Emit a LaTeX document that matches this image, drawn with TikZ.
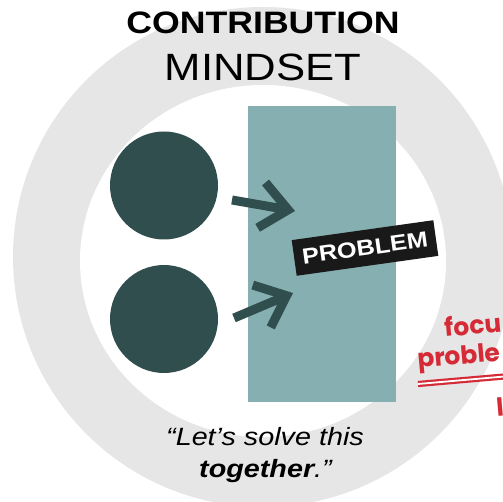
\documentclass[tikz,border=0pt]{standalone}
\usepackage{fontspec}
\setmainfont[FakeStretch=1.15]{Liberation Sans}
\newfontfamily\redfont{Poppins}
\usetikzlibrary{arrows.meta}

\definecolor{ringgray}{HTML}{E6E6E6}
\definecolor{darkteal}{HTML}{2F4E4D}
\definecolor{paleteal}{HTML}{86AFB1}
\definecolor{focusred}{HTML}{D52B36}

\begin{document}
\begin{tikzpicture}[x=1pt,y=-1pt,
  person/.style={circle,fill=darkteal,minimum size=108pt,inner sep=0pt},
  pointer/.style={draw=darkteal,line width=9pt,-{Straight Barb[length=27pt,width=46pt]}},
  redline/.style={anchor=base west,rotate=5,text=focusred,inner sep=0pt,
    font=\redfont\bfseries\fontsize{25}{28}\selectfont}]
\clip (0,0) rectangle (503,502);

% ring behind everything
\fill[ringgray] (263,257) circle (250);
\fill[white] (263,261) ellipse [x radius=183,y radius=176];

\node[anchor=base,font=\bfseries\fontsize{31}{34}\selectfont] (title) at (263,34) {CONTRIBUTION};
\node[anchor=base,font=\fontsize{38}{42}\selectfont] (subtitle) at (263,80.5) {MINDSET};

\node[fill=paleteal,minimum width=148pt,minimum height=296pt,inner sep=0pt] (wall) at (322,254) {};

\node[person] (top) at (164,185.5) {};
\node[person] (bottom) at (164,319) {};

\coordinate (topout) at (232,200);
\coordinate (toptip) at (295,211);
\coordinate (botout) at (234,318);
\coordinate (bottip) at (293,293);
\draw[pointer] (topout) -- (toptip);
\draw[pointer] (botout) -- (bottip);

\node[fill=black!90,text=white,rotate=8,minimum width=143pt,minimum height=36pt,inner sep=0pt,
  font=\bfseries\fontsize{22}{24}\selectfont] (label) at (365,248) {PROBLEM};

% quote under the ring
\node[anchor=base,font=\itshape\fontsize{25}{28}\selectfont] (quote) at (265,445) {“Let’s solve this};
\node[anchor=base,font=\itshape\fontsize{25}{28}\selectfont] (quote2) at (265.5,477) {\textbf{together}.”};

% red note, running off the edge
\node[redline] (focus) at (445,337) {focu};
\node[redline] (prob) at (418,368) {proble};
\node[redline] (last) at (497,417) {l};
\coordinate (ulstart) at (418,384);
\coordinate (ulend) at (510,376);
\draw[focusred,line width=2.2pt,double=white,double distance=1.8pt] (ulstart) -- (ulend);
\end{tikzpicture}
\end{document}
